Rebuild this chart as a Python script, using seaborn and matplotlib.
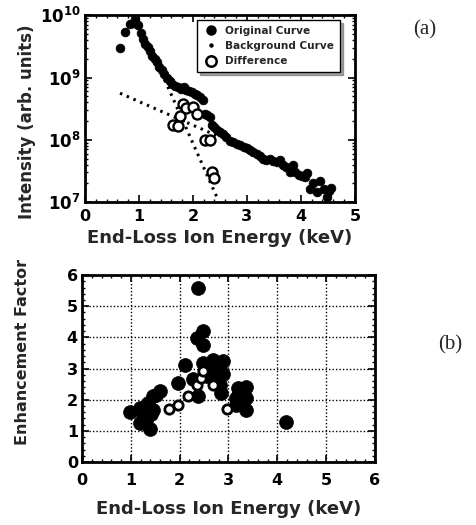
import seaborn as sns
import pandas as pd
import matplotlib.pyplot as plt
from matplotlib.lines import Line2D
from matplotlib.ticker import MultipleLocator, LogLocator, FixedFormatter

# (a) spectrum data
orig_energy = [0.65, 0.74, 0.83, 0.90, 0.93, 0.98, 1.04, 1.08, 1.12, 1.16,
               1.20, 1.25, 1.29, 1.33, 1.38, 1.42, 1.47, 1.52, 1.57, 1.62,
               1.67, 1.72, 1.78, 1.83, 1.88, 1.93, 1.98, 2.03, 2.08, 2.13,
               2.18, 2.22, 2.27, 2.31, 2.35, 2.39, 2.44, 2.50, 2.56, 2.62,
               2.69, 2.75, 2.81, 2.88, 2.94, 3.00, 3.06, 3.12, 3.18, 3.24,
               3.30, 3.36, 3.43, 3.49, 3.55, 3.61, 3.67, 3.73, 3.79, 3.85,
               3.90, 3.96, 4.02, 4.08, 4.12, 4.17, 4.23, 4.30, 4.35, 4.42,
               4.48, 4.52, 4.55]
orig_intensity = [3.0e9, 5.3e9, 7.2e9, 7.5e9, 8.7e9, 7.0e9, 5.1e9, 4.1e9, 3.5e9, 3.1e9,
                  2.7e9, 2.2e9, 2.0e9, 1.75e9, 1.5e9, 1.3e9, 1.15e9, 1.0e9, 8.8e8, 8.0e8,
                  7.2e8, 7.0e8, 6.5e8, 7.0e8, 6.2e8, 6.0e8, 5.8e8, 5.5e8, 5.2e8, 4.8e8,
                  4.4e8, 2.6e8, 2.5e8, 2.3e8, 1.75e8, 1.6e8, 1.45e8, 1.35e8, 1.25e8, 1.1e8,
                  9.5e7, 9.2e7, 8.6e7, 8.2e7, 7.8e7, 7.4e7, 6.8e7, 6.3e7, 6.0e7, 5.4e7,
                  5.0e7, 4.8e7, 5.0e7, 4.6e7, 4.4e7, 4.7e7, 3.9e7, 3.6e7, 3.1e7, 3.9e7,
                  3.0e7, 2.7e7, 2.6e7, 2.5e7, 2.9e7, 1.6e7, 2.0e7, 1.45e7, 2.2e7, 1.6e7,
                  1.2e7, 1.5e7, 1.7e7]
bg1_energy = [0.65, 2.44]
bg1_intensity = [5.6e8, 1.17e8]
bg2_energy = [1.48, 2.47]
bg2_intensity = [9.1e8, 1.07e7]
diff_energy = [1.64, 1.72, 1.76, 1.82, 1.88, 2.01, 2.07, 2.22, 2.31, 2.35, 2.39]
diff_intensity = [1.7e8, 1.66e8, 2.45e8, 3.8e8, 3.2e8, 3.4e8, 2.6e8, 9.8e7, 9.8e7, 3.0e7, 2.4e7]
log_ticks = [1e7, 1e8, 1e9, 1e10]
log_labels = [r"$\mathbf{10^{7}}$", r"$\mathbf{10^{8}}$", r"$\mathbf{10^{9}}$", r"$\mathbf{10^{10}}$"]

# (b) enhancement factor data
enh_energy = [2.37, 2.48, 2.35, 2.48, 2.10, 2.48, 2.68, 2.88, 2.61, 2.82,
              2.88, 1.97, 2.27, 2.37, 2.82, 2.85, 3.19, 3.36, 3.36, 3.16,
              3.22, 1.59, 1.46, 1.35, 0.98, 1.18, 1.29, 1.46, 1.18, 1.39,
              1.35, 1.29, 1.52, 1.25, 1.42, 1.32, 3.16, 3.36, 4.18, 2.55,
              2.75, 2.60]
enh_factor = [5.58, 4.20, 3.99, 3.74, 3.10, 3.18, 3.29, 3.24, 2.97, 2.91,
              2.81, 2.54, 2.65, 2.11, 2.48, 2.22, 2.38, 2.41, 2.05, 2.05,
              2.22, 2.27, 2.11, 1.89, 1.62, 1.73, 1.78, 1.68, 1.25, 1.05,
              1.68, 1.46, 2.16, 1.55, 1.55, 1.35, 1.84, 1.68, 1.30, 2.75,
              2.60, 3.05]
open_energy = [1.78, 1.97, 2.17, 2.35, 2.44, 2.48, 2.68, 2.97]
open_factor = [1.71, 1.82, 2.11, 2.48, 2.70, 2.91, 2.48, 1.71]


def label_font(size):
    return {"family": ["DejaVu Sans"], "weight": "bold", "size": size}


def style_axes(ax, xpad, ysize):
    """Thick frame with inward ticks on all sides"""
    for sp in ax.spines.values():
        sp.set_linewidth(2.0)
        sp.set_color("black")
    ax.tick_params(which="both", direction="in", top=True, right=True,
                   colors="black")
    ax.tick_params(which="major", length=5, width=1.2, pad=3)
    ax.tick_params(which="minor", length=2.5, width=1.0)
    ax.tick_params(axis="x", which="major", pad=xpad, labelsize=11.5)
    ax.tick_params(axis="y", which="major", labelsize=ysize)
    for lab in ax.get_xticklabels() + ax.get_yticklabels():
        lab.set_fontweight("bold")


def main():
    sns.set_theme(style="ticks")
    plt.rcParams["font.family"] = ["DejaVu Sans"]
    plt.rcParams["font.weight"] = "bold"
    plt.rcParams["mathtext.fontset"] = "custom"
    plt.rcParams["mathtext.bf"] = "DejaVu Sans:bold"
    plt.rcParams["mathtext.rm"] = "DejaVu Sans:bold"

    fig = plt.figure(figsize=(4.77, 5.25), dpi=100)
    ax1 = fig.add_axes([0.178, 0.615, 0.566, 0.356])
    ax2 = fig.add_axes([0.172, 0.120, 0.614, 0.356])

    orig_df = pd.DataFrame({"E": orig_energy, "I": orig_intensity})
    diff_df = pd.DataFrame({"E": diff_energy, "I": diff_intensity})
    bg1_df = pd.DataFrame({"E": bg1_energy, "I": bg1_intensity})
    bg2_df = pd.DataFrame({"E": bg2_energy, "I": bg2_intensity})

    dot_style = (0, (0.8, 1.6))
    sns.lineplot(data=bg1_df, x="E", y="I", ax=ax1, color="black",
                 linewidth=2.2, linestyle=dot_style, zorder=2)
    sns.lineplot(data=bg2_df, x="E", y="I", ax=ax1, color="black",
                 linewidth=2.2, linestyle=dot_style, zorder=2)
    sns.scatterplot(data=orig_df, x="E", y="I", ax=ax1, color="black",
                    s=40, edgecolor="black", linewidth=0.5, zorder=3)
    sns.scatterplot(data=diff_df, x="E", y="I", ax=ax1, color="white",
                    s=52, edgecolor="black", linewidth=1.7, zorder=4)
    ax1.set_yscale("log")
    ax1.set_xlim(0, 5)
    ax1.set_ylim(1e7, 1e10)
    ax1.xaxis.set_major_locator(MultipleLocator(1))
    ax1.xaxis.set_minor_locator(MultipleLocator(0.2))
    ax1.set_yticks(log_ticks)
    ax1.yaxis.set_major_formatter(FixedFormatter(log_labels))
    ax1.yaxis.set_minor_locator(LogLocator(base=10, subs=range(2, 10)))
    ax1.set_xlabel("End-Loss Ion Energy (keV)", fontdict=label_font(13),
                   va="center")
    ax1.set_ylabel("Intensity (arb. units)", fontdict=label_font(12),
                   va="center")
    ax1.xaxis.set_label_coords(0.5, -0.193)
    ax1.yaxis.set_label_coords(-0.215, 0.43)
    style_axes(ax1, xpad=5, ysize=12)

    handles = [
        Line2D([], [], marker="o", color="black", linestyle="none", markersize=6.5),
        Line2D([], [], marker="o", color="black", linestyle="none", markersize=2.2),
        Line2D([], [], marker="o", markerfacecolor="white", markeredgecolor="black",
               markeredgewidth=1.8, linestyle="none", markersize=7.5),
    ]
    leg = ax1.legend(handles, ["Original Curve", "Background Curve", "Difference"],
                     loc="upper right", bbox_to_anchor=(0.945, 0.975),
                     borderaxespad=0, fancybox=False, shadow=True,
                     prop={"weight": "bold", "size": 7.6}, handletextpad=0.6,
                     borderpad=0.55, labelspacing=0.5, handlelength=1.5,
                     framealpha=1)
    leg.get_frame().set_edgecolor("black")
    leg.get_frame().set_linewidth(1.0)

    enh_df = pd.DataFrame({"E": enh_energy, "F": enh_factor})
    open_df = pd.DataFrame({"E": open_energy, "F": open_factor})
    sns.scatterplot(data=enh_df, x="E", y="F", ax=ax2, color="black",
                    s=100, edgecolor="black", linewidth=0.5, zorder=3)
    sns.scatterplot(data=open_df, x="E", y="F", ax=ax2, color="white",
                    s=45, edgecolor="black", linewidth=2.0, zorder=4)
    ax2.set_xlim(0, 6)
    ax2.set_ylim(0, 6)
    ax2.xaxis.set_major_locator(MultipleLocator(1))
    ax2.xaxis.set_minor_locator(MultipleLocator(0.2))
    ax2.yaxis.set_major_locator(MultipleLocator(1))
    ax2.yaxis.set_minor_locator(MultipleLocator(0.2))
    ax2.grid(True, which="major", color="black", linestyle=(0, (1, 1.5)),
             linewidth=1.0)
    ax2.set_axisbelow(True)
    ax2.set_xlabel("End-Loss Ion Energy (keV)", fontdict=label_font(13),
                   va="center")
    ax2.set_ylabel("Enhancement Factor", fontdict=label_font(11.5),
                   va="center")
    ax2.xaxis.set_label_coords(0.5, -0.25)
    ax2.yaxis.set_label_coords(-0.205, 0.59)
    style_axes(ax2, xpad=8, ysize=11.5)

    fig.text(425 / 477, 1 - 30 / 525, "(a)", family="Liberation Serif",
             fontsize=15, fontweight="normal", ha="center", va="center")
    fig.text(450 / 477, 1 - 345 / 525, "(b)", family="Liberation Serif",
             fontsize=15, fontweight="normal", ha="center", va="center")

    plt.savefig("out.png", dpi=100)


if __name__ == "__main__":
    main()
